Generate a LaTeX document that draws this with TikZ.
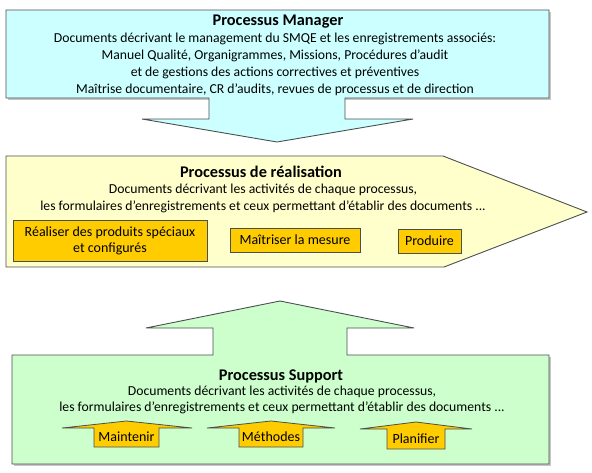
\documentclass[tikz,border=0pt]{standalone}
\usepackage{fontspec}
\setmainfont{Carlito}
\definecolor{managercyan}{HTML}{CCFFFF}
\definecolor{realyellow}{HTML}{FFFFCC}
\definecolor{supportgreen}{HTML}{CCFFCC}
\definecolor{taskorange}{HTML}{FFCC00}
\definecolor{edgegray}{HTML}{4A4F4F}
\begin{document}
\begin{tikzpicture}[x=1pt,y=-1pt,line join=miter,
		panel/.style={draw=edgegray,line width=0.9pt},
		task/.style={draw=edgegray,fill=taskorange,line width=0.8pt},
		titletext/.style={anchor=base,inner sep=0pt,font=\fontsize{16.3}{17}\selectfont\bfseries},
		blocktext/.style={align=center,inner sep=0pt,font=\fontsize{13.7}{17}\selectfont},
		tasktext/.style={align=center,inner sep=0pt,font=\fontsize{14}{16}\selectfont}]
		\useasboundingbox (0,0) rectangle (592,472);

		% Processus Manager, box and down arrow
		\fill[gray!45] (7.5,11.5) rectangle (550.5,99.5);
		\draw[panel,fill=managercyan] (6,10) -- (549,10) -- (549,98) -- (345,98) -- (345,119) -- (413,119)
			-- (277,142) -- (142,119) -- (209,119) -- (209,98) -- (6,98) -- cycle;
		\node[titletext] (managertitle) at (278,25) {Processus Manager};
		\node[blocktext] (manager) at (275,64) {Documents décrivant le management du SMQE et les enregistrements associés:\\
			Manuel Qualité, Organigrammes, Missions, Procédures d’audit\\
			et de gestions des actions correctives et préventives\\
			Maîtrise documentaire, CR d’audits, revues de processus et de direction};

		% Processus de realisation
		\draw[panel,fill=realyellow] (6,156) -- (443,156) -- (587,212) -- (444,267) -- (6,267) -- cycle;
		\node[titletext] (realisationtitle) at (261,177) {Processus de réalisation};
		\node[blocktext] (realisation) at (263,198.5) {Documents décrivant les activités de chaque processus,\\
			les formulaires d’enregistrements et ceux permettant d’établir des documents ...};
		\node[task,tasktext,minimum width=194pt,minimum height=41pt] (produits) at (110,240.5)
			{Réaliser des produits spéciaux\\ et configurés};
		\node[task,tasktext,minimum width=130pt,minimum height=24pt] (mesure) at (295,240) {Maîtriser la mesure};
		\node[task,tasktext,minimum width=63pt,minimum height=24pt] (produire) at (429.5,241) {Produire};

		% Processus Support, box and up arrow
		\fill[gray!45] (13.5,356.5) rectangle (550.5,465.5);
		\draw[panel,fill=supportgreen] (12,464) -- (549,464) -- (549,355) -- (347,355) -- (347,328) -- (414,328)
			-- (280,301) -- (146,328) -- (213,328) -- (213,355) -- (12,355) -- cycle;
		\node[titletext] (supporttitle) at (281,380) {Processus Support};
		\node[blocktext,font=\fontsize{13.7}{16}\selectfont] (support) at (282,400) {Documents décrivant les activités de chaque processus,\\
			les formulaires d’enregistrements et ceux permettant d’établir des documents ...};

		% small up arrows
		\draw[task] (62,428) -- (126.5,421) -- (192,428) -- (159,428) -- (159,447) -- (94,447) -- (94,428) -- cycle;
		\node[tasktext] (maintenir) at (126.5,437) {Maintenir};
		\draw[task] (207,428) -- (271,421) -- (335,428) -- (303,428) -- (303,447) -- (239,447) -- (239,428) -- cycle;
		\node[tasktext] (methodes) at (271,437) {Méthodes};
		\draw[task] (360,429) -- (416,422) -- (472,429) -- (445,429) -- (445,449) -- (387,449) -- (387,429) -- cycle;
		\node[tasktext] (planifier) at (416,439) {Planifier};
	\end{tikzpicture}
\end{document}
